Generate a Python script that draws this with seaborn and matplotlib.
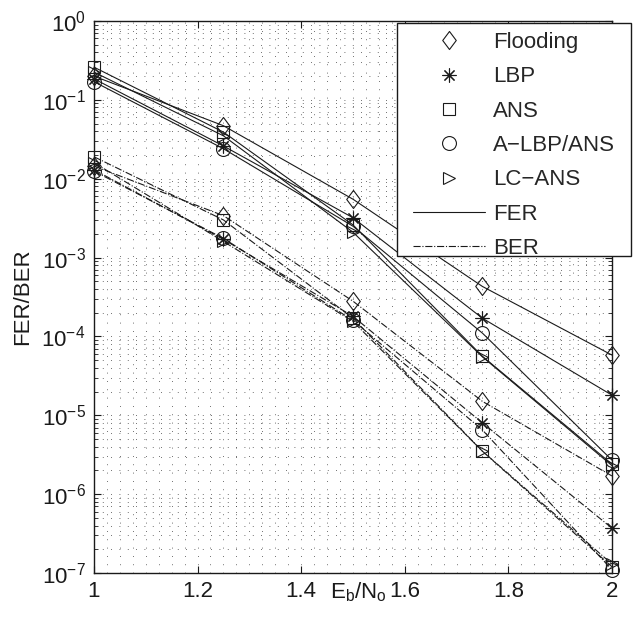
import numpy as np
import pandas as pd
import matplotlib.pyplot as plt
import seaborn as sns
from matplotlib.lines import Line2D
from matplotlib.patches import Rectangle
from matplotlib.path import Path
from matplotlib.ticker import MultipleLocator, LogLocator, FormatStrFormatter, NullFormatter

# ==========================
# Data
# ==========================
ebno = [1.0, 1.25, 1.5, 1.75, 2.0]
schemes = ["Flooding", "LBP", "ANS", "A\u2212LBP/ANS", "LC\u2212ANS"]

fer_flooding = [0.20, 0.047, 5.5e-3, 4.3e-4, 5.8e-5]
fer_lbp = [0.185, 0.026, 3.2e-3, 1.7e-4, 1.8e-5]
fer_ans = [0.26, 0.039, 2.6e-3, 5.6e-5, 2.4e-6]
fer_albp = [0.17, 0.024, 2.5e-3, 1.1e-4, 2.7e-6]
fer_lcans = [0.225, 0.035, 2.1e-3, 5.5e-5, 2.3e-6]

ber_flooding = [0.0145, 3.4e-3, 2.8e-4, 1.5e-5, 1.7e-6]
ber_lbp = [0.013, 1.7e-3, 1.8e-4, 8.0e-6, 3.7e-7]
ber_ans = [0.019, 3.0e-3, 1.7e-4, 3.5e-6, 1.2e-7]
ber_albp = [0.0125, 1.75e-3, 1.6e-4, 6.5e-6, 1.1e-7]
ber_lcans = [0.016, 1.6e-3, 1.55e-4, 3.5e-6, 1.3e-7]

fer_all = [fer_flooding, fer_lbp, fer_ans, fer_albp, fer_lcans]
ber_all = [ber_flooding, ber_lbp, ber_ans, ber_albp, ber_lcans]

# ==========================
# Styling
# ==========================
sns.set_theme(style="ticks")
plt.rcParams["font.family"] = ["Liberation Sans", "DejaVu Sans"]
plt.rcParams["mathtext.fontset"] = "custom"
plt.rcParams["mathtext.rm"] = "Liberation Sans"
plt.rcParams["mathtext.it"] = "Liberation Sans:italic"
plt.rcParams["mathtext.default"] = "regular"

FS = 16

# MATLAB-like elongated diamond
diamond = Path([(0, 1), (0.75, 0), (0, -1), (-0.75, 0), (0, 1)],
               [Path.MOVETO, Path.LINETO, Path.LINETO, Path.LINETO, Path.CLOSEPOLY])
markers = [diamond, (8, 2, 0), "s", "o", ">"]
msizes = [13, 10, 9, 10, 9]

# long-form table for seaborn
rows = []
for name, fer, ber in zip(schemes, fer_all, ber_all):
    for x, f, b in zip(ebno, fer, ber):
        rows.append({"EbNo": x, "Scheme": name, "Metric": "FER", "Value": f})
        rows.append({"EbNo": x, "Scheme": name, "Metric": "BER", "Value": b})
df = pd.DataFrame(rows)

fig = plt.figure(figsize=(6.39, 6.25), dpi=100)
ax = fig.add_axes([0.147, 0.0832, 0.8107, 0.8832])

for metric, ls in [("FER", "-"), ("BER", "-.")]:
    for name, mk, ms in zip(schemes, markers, msizes):
        sub = df[(df["Scheme"] == name) & (df["Metric"] == metric)]
        sns.lineplot(data=sub, x="EbNo", y="Value", ax=ax, color="k",
                     linestyle=ls, linewidth=0.8, marker=mk, markersize=ms,
                     markerfacecolor="none", markeredgecolor="k",
                     markeredgewidth=0.8, legend=False, estimator=None,
                     clip_on=False)

ax.set_yscale("log")
ax.set_xlim(1, 2)
ax.set_ylim(1e-7, 1)

ax.xaxis.set_major_locator(MultipleLocator(0.2))
ax.xaxis.set_major_formatter(FormatStrFormatter("%g"))
ax.xaxis.set_minor_locator(MultipleLocator(0.025))
ax.yaxis.set_major_locator(LogLocator(base=10, numticks=20))
ax.yaxis.set_minor_locator(LogLocator(base=10, subs=np.arange(2, 10), numticks=100))
ax.yaxis.set_minor_formatter(NullFormatter())

ax.tick_params(which="both", direction="in", top=True, right=True,
               labelsize=FS, colors="k", pad=6)
ax.tick_params(which="major", length=5, width=0.8)
ax.tick_params(axis="y", which="minor", length=3, width=0.6)
ax.tick_params(axis="x", which="minor", length=0)

for sp in ax.spines.values():
    sp.set_color("k")
    sp.set_linewidth(1.0)

ax.grid(True, which="both", color="0.25", linestyle=(0, (1, 9)), linewidth=0.6)

ax.set_ylabel("FER/BER", fontsize=FS, color="k", labelpad=6)
ax.set_xlabel("E$_\\mathregular{b}$/N$_\\mathregular{o}$", fontsize=FS, color="k")
ax.xaxis.set_label_coords(0.51, -0.014)

# legend box drawn like the MATLAB one
box = Rectangle((397 / 639, 1 - 256 / 625), 234 / 639, 233 / 625,
                transform=fig.transFigure, facecolor="white", edgecolor="k",
                linewidth=1.0, zorder=4, clip_on=False)
ax.add_patch(box)

handles = [Line2D([], [], linestyle="none", marker=mk, markersize=ms,
                  markerfacecolor="none", markeredgecolor="k", markeredgewidth=0.8)
           for mk, ms in zip(markers, msizes)]
handles.append(Line2D([], [], color="k", linestyle="-", linewidth=0.8))
handles.append(Line2D([], [], color="k", linestyle="-.", linewidth=0.8))
labels = schemes + ["FER", "BER"]

leg = ax.legend(handles, labels, loc="upper left",
                bbox_to_anchor=(413 / 639, 1 - 32 / 625), bbox_transform=fig.transFigure,
                fontsize=FS, frameon=False, handlelength=3.24, handletextpad=0.36,
                labelspacing=0.6, borderpad=0, borderaxespad=0)
leg.set_zorder(5)

fig.savefig("out.png", dpi=100)
